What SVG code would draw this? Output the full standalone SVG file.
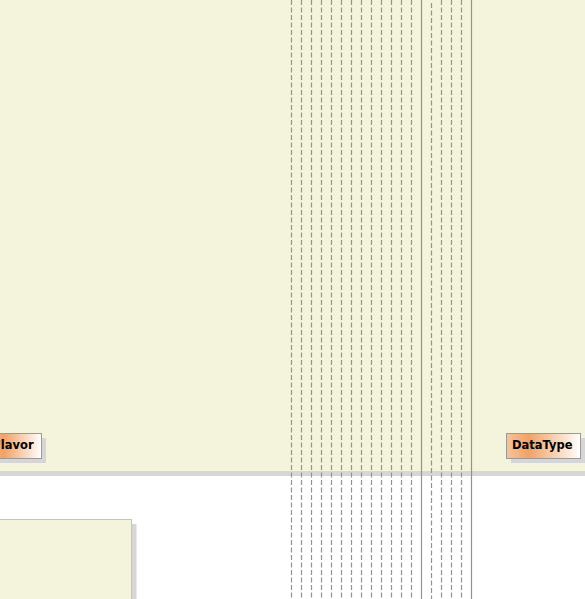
<svg xmlns="http://www.w3.org/2000/svg" width="585" height="599" viewBox="0 0 585 599">
<style>
.panel{fill:#F4F4DC}
.shadow{fill:#D6D6D6}
.life{stroke:#939393;stroke-width:1.2;fill:none;stroke-dasharray:5,2.5}
.solid{stroke:#939393;stroke-width:1.2;fill:none}
.lbl{fill:url(#og);stroke:#9A9A9A;stroke-width:1}
.txt{font-family:"DejaVu Sans",sans-serif;font-weight:bold;font-size:11.5px;fill:#000}
</style>
<defs>
<linearGradient id="og" x1="0" y1="0" x2="1" y2="0">
<stop offset="0" stop-color="#F7C49A"/>
<stop offset="0.3" stop-color="#F1A266"/>
<stop offset="1" stop-color="#FFFFFF"/>
</linearGradient>
</defs>
<g id="frame">
<rect class="shadow" x="0" y="471" width="585" height="5"/>
<rect class="panel" x="0" y="0" width="585" height="471"/>
</g>
<g id="box2">
<rect class="shadow" x="131.5" y="524" width="5" height="75"/>
<rect x="-5" y="519.5" width="136.5" height="90" fill="#F4F4DC" stroke="#C4C4C4" stroke-width="1"/>
</g>
<g id="connectors">
<line class="life" x1="291.5" y1="0" x2="291.5" y2="599"/>
<line class="life" x1="301.5" y1="0" x2="301.5" y2="599"/>
<line class="life" x1="311.5" y1="0" x2="311.5" y2="599"/>
<line class="life" x1="321.5" y1="0" x2="321.5" y2="599"/>
<line class="life" x1="331.5" y1="0" x2="331.5" y2="599"/>
<line class="life" x1="341.5" y1="0" x2="341.5" y2="599"/>
<line class="life" x1="351.5" y1="0" x2="351.5" y2="599"/>
<line class="life" x1="361.5" y1="0" x2="361.5" y2="599"/>
<line class="life" x1="371.5" y1="0" x2="371.5" y2="599"/>
<line class="life" x1="381.5" y1="0" x2="381.5" y2="599"/>
<line class="life" x1="391.5" y1="0" x2="391.5" y2="599"/>
<line class="life" x1="401.5" y1="0" x2="401.5" y2="599"/>
<line class="life" x1="411.5" y1="0" x2="411.5" y2="599"/>
<line class="solid" x1="421.5" y1="0" x2="421.5" y2="599"/>
<line class="life" x1="431.5" y1="3" x2="431.5" y2="599"/>
<line class="life" x1="441.5" y1="0" x2="441.5" y2="599"/>
<line class="life" x1="451.5" y1="0" x2="451.5" y2="599"/>
<line class="life" x1="461.5" y1="0" x2="461.5" y2="599"/>
<line class="solid" x1="471.5" y1="0" x2="471.5" y2="599"/>
</g>
<g id="flavor">
<rect class="shadow" x="-8" y="438" width="54" height="25"/>
<rect class="lbl" x="-13" y="433.5" width="54.5" height="25"/>
<text class="txt" x="-7" y="449">Flavor</text>
</g>
<g id="datatype">
<rect class="shadow" x="511" y="438" width="74" height="25"/>
<rect class="lbl" x="506.5" y="433.5" width="74" height="25"/>
<text class="txt" x="512" y="449">DataType</text>
</g>
</svg>
